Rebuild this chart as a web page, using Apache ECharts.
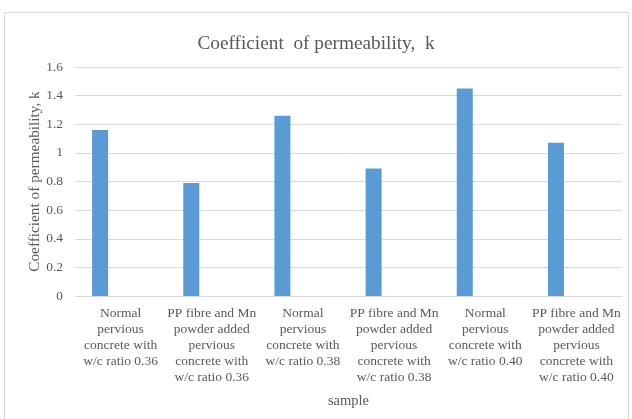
<!DOCTYPE html>
<html>
<head>
<meta charset="utf-8">
<style>
  html, body { margin: 0; padding: 0; background: #ffffff; }
  #chart { width: 632px; height: 419px; }
</style>
<script src="https://cdn.jsdelivr.net/npm/echarts@6/dist/echarts.min.js"></script>
</head>
<body>
<div id="chart"></div>
<script>
// Sample names (line breaks as they wrap under each bar)
const categories = [
  'Normal\npervious\nconcrete with\nw/c ratio 0.36',
  'PP fibre and Mn\npowder added\npervious\nconcrete with\nw/c ratio 0.36',
  'Normal\npervious\nconcrete with\nw/c ratio 0.38',
  'PP fibre and Mn\npowder added\npervious\nconcrete with\nw/c ratio 0.38',
  'Normal\npervious\nconcrete with\nw/c ratio 0.40',
  'PP fibre and Mn\npowder added\npervious\nconcrete with\nw/c ratio 0.40'
];

// Coefficient of permeability k for each sample
const kValues = [1.16, 0.79, 1.26, 0.89, 1.45, 1.07];

// Second (empty) series slot that shares each category with k
const emptySlot = [null, null, null, null, null, null];

// Y axis ticks
const yTicks = { min: 0, max: 1.6, interval: 0.2 };

const FONT = '"Liberation Serif", "Times New Roman", serif';
const TEXT = '#595959';
const GRID = '#d9d9d9';

const chart = echarts.init(document.getElementById('chart'), null, { renderer: 'canvas' });

chart.setOption({
  animation: false,
  backgroundColor: '#ffffff',
  graphic: [{
    type: 'rect',
    shape: { x: 4.5, y: 12.5, width: 624, height: 410 },
    style: { fill: 'none', stroke: '#d9d9d9', lineWidth: 1 },
    silent: true
  }],
  title: {
    text: 'Coefficient  of permeability,  k',
    left: 'center',
    top: 29,
    textStyle: { fontFamily: FONT, fontSize: 19.3, fontWeight: 'normal', color: TEXT }
  },
  grid: { left: 75, right: 10, top: 67, bottom: 123, containLabel: false },
  xAxis: {
    type: 'category',
    data: categories,
    name: 'sample',
    nameLocation: 'middle',
    nameGap: 98,
    nameMoveOverlap: false,
    nameTextStyle: { fontFamily: FONT, fontSize: 14.5, color: TEXT },
    axisLine: { lineStyle: { color: GRID, width: 1 } },
    axisTick: { show: false },
    axisLabel: {
      interval: 0,
      margin: 9,
      fontFamily: FONT,
      fontSize: 13.5,
      lineHeight: 16,
      color: TEXT
    }
  },
  yAxis: {
    type: 'value',
    min: yTicks.min,
    max: yTicks.max,
    interval: yTicks.interval,
    name: 'Coefficient of permeability, k',
    nameLocation: 'middle',
    nameRotate: 90,
    nameGap: 33,
    nameMoveOverlap: false,
    nameTextStyle: { fontFamily: FONT, fontSize: 15.3, color: TEXT },
    axisLine: { show: false },
    axisTick: { show: false },
    axisLabel: { fontFamily: FONT, fontSize: 13.5, color: TEXT, margin: 12 },
    splitLine: { lineStyle: { color: GRID, width: 1 } }
  },
  series: [
    {
      name: 'k',
      type: 'bar',
      data: kValues,
      barWidth: 16,
      barGap: '156%',
      itemStyle: { color: '#5b9bd5' }
    },
    {
      name: 'k (2)',
      type: 'bar',
      data: emptySlot,
      barWidth: 16,
      itemStyle: { color: '#ed7d31' }
    }
  ]
});
</script>
</body>
</html>
